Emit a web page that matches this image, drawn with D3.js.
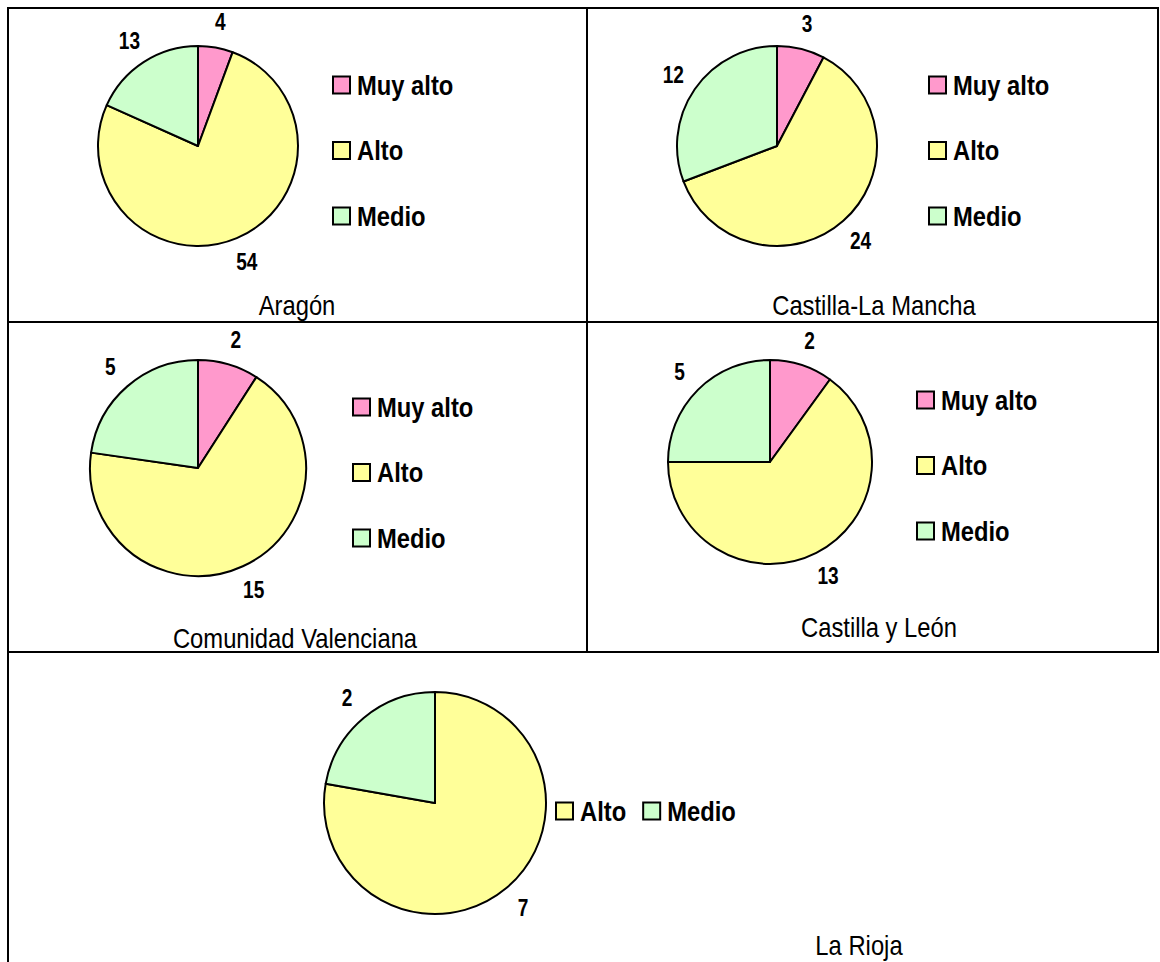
<!DOCTYPE html>
<html>
<head>
<meta charset="utf-8">
<script src="https://cdn.jsdelivr.net/npm/d3@7"></script>
<style>
    body { margin: 0; background: #fff; }
    text { font-family: "Liberation Sans Narrow", "Arial Narrow", "Liberation Sans", sans-serif; }
</style>
</head>
<body>
<svg id="chart" width="1160" height="962"></svg>
<script>
// Data
const regions = ["Aragón", "Castilla-La Mancha", "Comunidad Valenciana", "Castilla y León", "La Rioja"];
const categories = ["Muy alto", "Alto", "Medio"];
const aragon = [4, 54, 13];
const castillaLaMancha = [3, 24, 12];
const comunidadValenciana = [2, 15, 5];
const castillaYLeon = [2, 13, 5];
const laRioja = [null, 7, 2];

const color = d3.scaleOrdinal(categories, ["#FF99CC", "#FFFF99", "#CCFFCC"]);

// no narrow font installed, so squeeze the regular one
const narrow = 0.83;
const narrowLegend = 0.88;
const narrowTitle = 0.85;

// Layout of each table cell
const panels = [
    {values: aragon, cx: 198, cy: 146, r: 100, legend: {x: 332, y: 85, dir: "v"}, title: {x: 297, y: 315}},
    {values: castillaLaMancha, cx: 777, cy: 146, r: 100, legend: {x: 928, y: 85, dir: "v"}, title: {x: 874, y: 315}},
    {values: comunidadValenciana, cx: 198, cy: 468, r: 108, legend: {x: 352, y: 407, dir: "v"}, title: {x: 295, y: 648}},
    {values: castillaYLeon, cx: 770, cy: 462, r: 102, legend: {x: 916, y: 400, dir: "v"}, title: {x: 879, y: 637}},
    {values: laRioja, cx: 435, cy: 803, r: 111, legend: {x: 555, y: 811, dir: "h"}, title: {x: 859, y: 955}}
];

const svg = d3.select("#chart");

// Table borders
const grid = svg.append("g").attr("stroke", "#000").attr("stroke-width", 2);
grid.append("line").attr("x1", 7).attr("y1", 8).attr("x2", 1159).attr("y2", 8);
grid.append("line").attr("x1", 7).attr("y1", 322).attr("x2", 1159).attr("y2", 322);
grid.append("line").attr("x1", 7).attr("y1", 652).attr("x2", 1159).attr("y2", 652);
grid.append("line").attr("x1", 8).attr("y1", 7).attr("x2", 8).attr("y2", 962);
grid.append("line").attr("x1", 587).attr("y1", 7).attr("x2", 587).attr("y2", 652);
grid.append("line").attr("x1", 1158).attr("y1", 7).attr("x2", 1158).attr("y2", 652);

const pie = d3.pie().sort(null).value(d => d.value);

panels.forEach((p, i) => {
    const data = categories.map((c, k) => ({cat: c, value: p.values[k]}))
        .filter(d => d.value !== null);

    const g = svg.append("g").attr("transform", `translate(${p.cx},${p.cy})`);
    const arc = d3.arc().innerRadius(0).outerRadius(p.r);
    const labelArc = d3.arc().innerRadius(p.r + 26).outerRadius(p.r + 26);
    const arcs = pie(data);

    g.selectAll("path")
        .data(arcs)
        .enter().append("path")
        .attr("d", arc)
        .attr("fill", d => color(d.data.cat))
        .attr("stroke", "#000")
        .attr("stroke-width", 2)
        .attr("stroke-linejoin", "round");

    g.selectAll(".lbl")
        .data(arcs)
        .enter().append("text")
        .attr("class", "lbl")
        .attr("transform", d => `translate(${labelArc.centroid(d)}) scale(${narrow},1)`)
        .attr("text-anchor", "middle")
        .attr("dy", "0.36em")
        .attr("font-size", "23px")
        .attr("font-weight", "bold")
        .text(d => d.data.value);

    // Legend
    const leg = svg.append("g").attr("transform", `translate(${p.legend.x},${p.legend.y})`);
    let offset = 0;
    data.forEach((d, k) => {
        const item = leg.append("g");
        if (p.legend.dir === "v") item.attr("transform", `translate(0,${k * 65.5})`);
        else item.attr("transform", `translate(${offset},0)`);
        item.append("rect")
            .attr("x", 1).attr("y", -8.5)
            .attr("width", 17).attr("height", 17)
            .attr("fill", color(d.cat))
            .attr("stroke", "#000")
            .attr("stroke-width", 2);
        const t = item.append("text")
            .attr("transform", `translate(25,0) scale(${narrowLegend},1)`)
            .attr("dy", "0.36em")
            .attr("font-size", "27px")
            .attr("font-weight", "bold")
            .text(d.cat);
        offset += 25 + t.node().getComputedTextLength() * narrowLegend + 16;
    });

    svg.append("text")
        .attr("transform", `translate(${p.title.x},${p.title.y}) scale(${narrowTitle},1)`)
        .attr("text-anchor", "middle")
        .attr("font-size", "28px")
        .text(regions[i]);
});
</script>
</body>
</html>
